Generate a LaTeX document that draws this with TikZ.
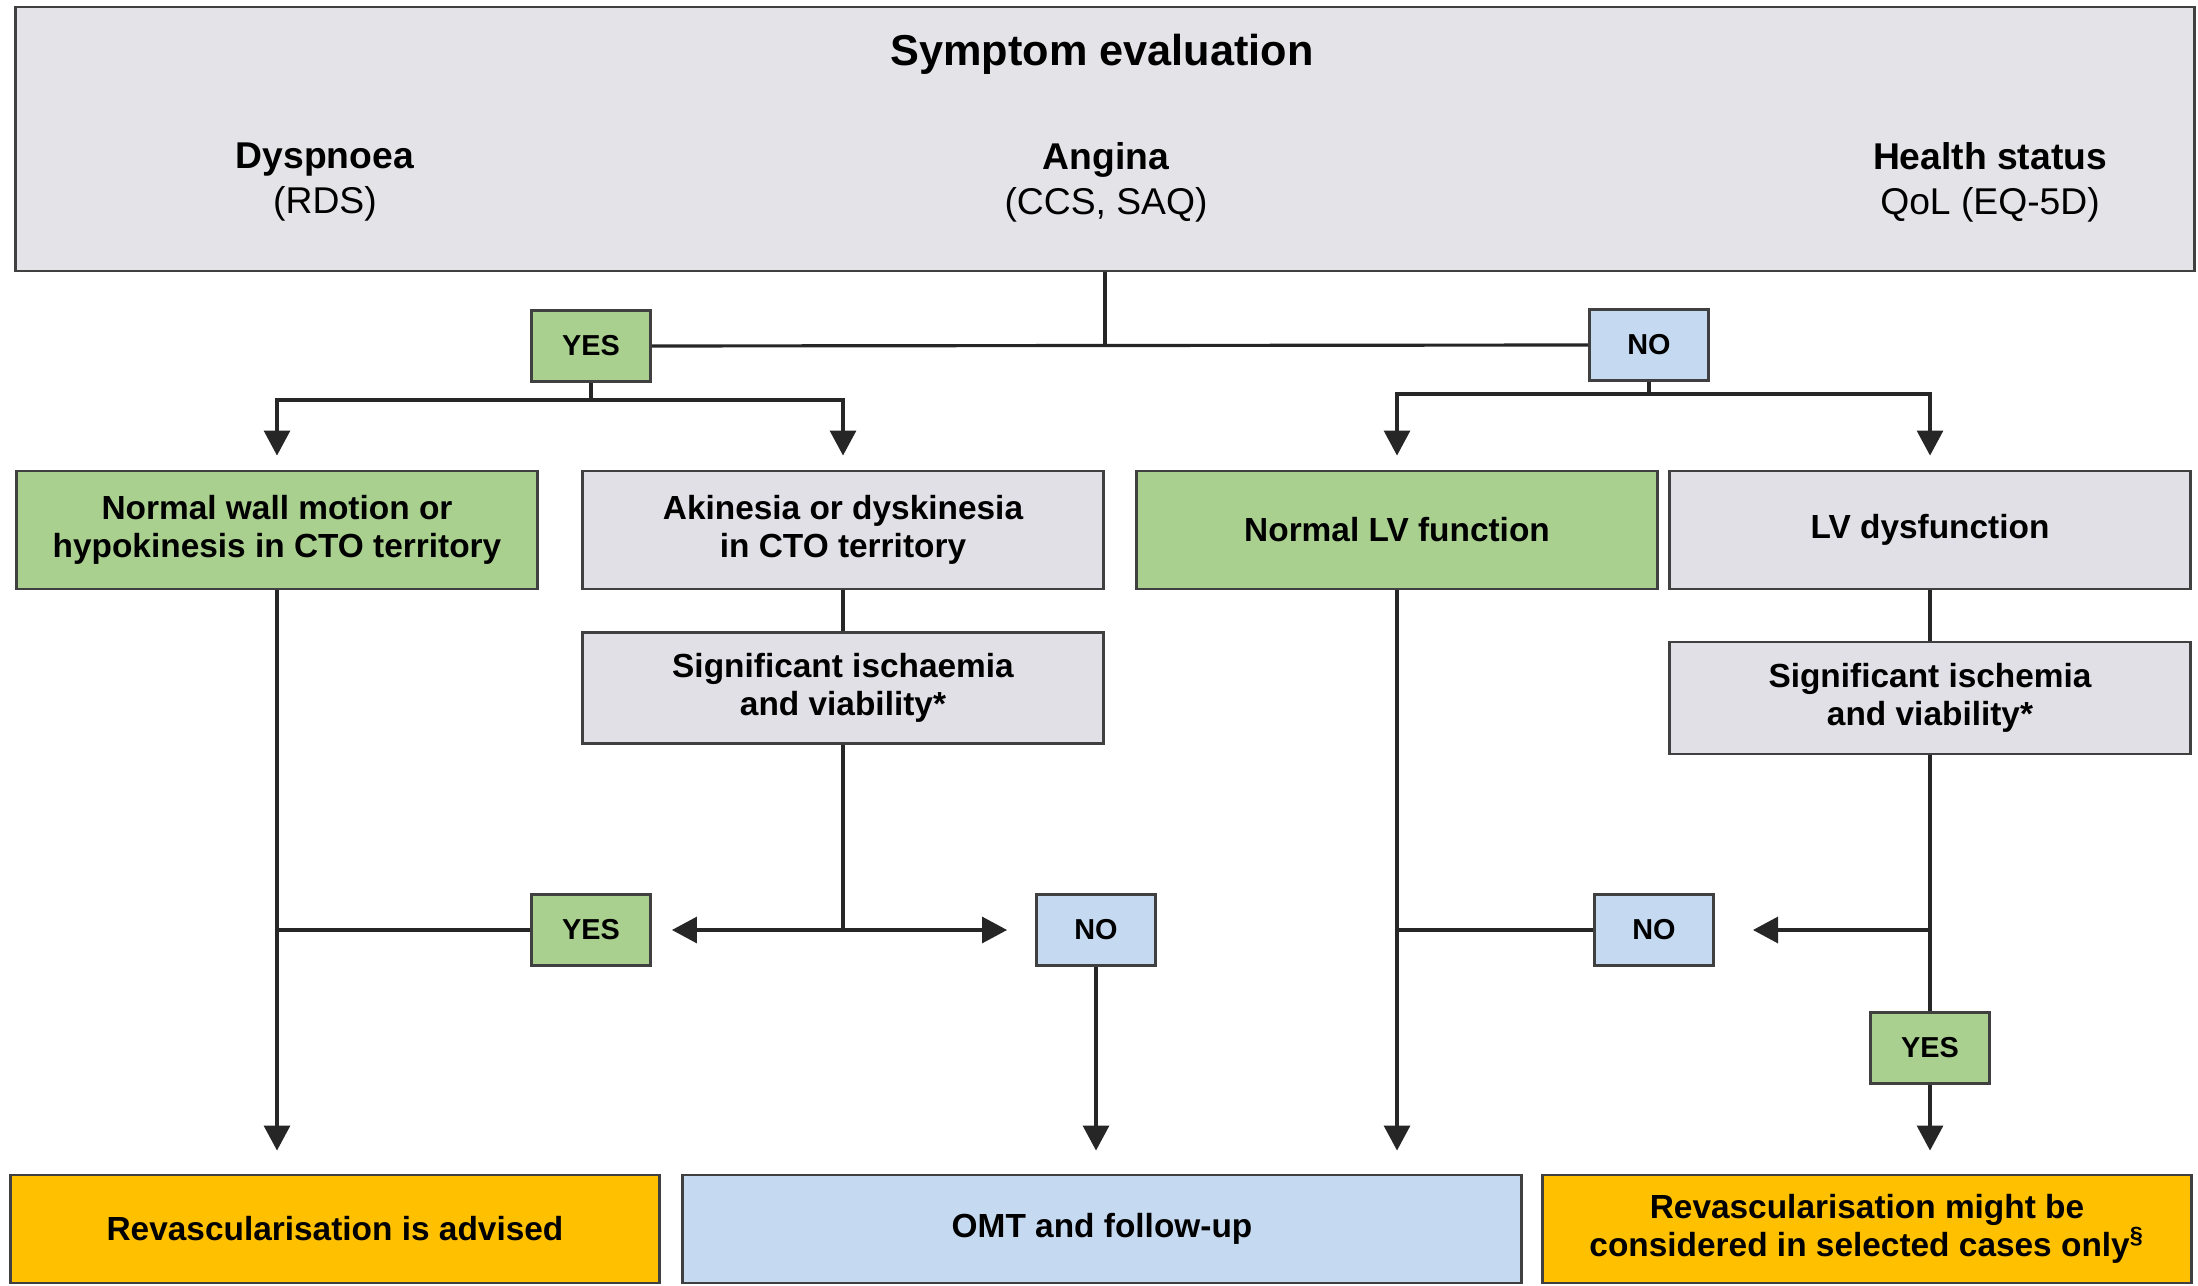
\documentclass[tikz,border=0pt]{standalone}
\usepackage{fontspec}
\setmainfont{Liberation Sans}
\usepackage{tikz}
\usetikzlibrary{arrows.meta}
\definecolor{boxgrey}{RGB}{225,224,230}
\definecolor{boxgreen}{RGB}{169,208,142}
\definecolor{boxblue}{RGB}{197,217,241}
\definecolor{boxorange}{RGB}{255,192,0}
\definecolor{boxline}{RGB}{64,64,64}

\begin{document}
\begin{tikzpicture}[x=0.01cm,y=-0.01cm,
  box/.style={draw=boxline,line width=0.8pt,minimum width=5.2cm,minimum height=1.18cm,align=center,font=\fontsize{9.5}{10.8}\selectfont\bfseries},
  tag/.style={box,minimum width=1.19cm,minimum height=0.71cm,font=\fontsize{8.2}{9}\selectfont\bfseries},
  head/.style={align=center,font=\fontsize{10.6}{12.8}\selectfont},
  link/.style={line width=0.9pt,draw=black!85},
  arr/.style={link,-{Triangle[width=0.26cm,length=0.25cm]},shorten >=#1},
  arr/.default=0.14cm]
\tikzstyle{every node}+=[inner sep=0pt]
\useasboundingbox (0,0) rectangle (2198,1286);
\node[box,fill=boxgrey!90!white,minimum width=21.77cm,minimum height=2.64cm] (sym) at (1105,139) {};
\node[font=\fontsize{12.3}{14}\selectfont\bfseries] (title) at (1102,54) {Symptom evaluation};
\node[head] (dysp) at (325,182) {\textbf{Dyspnoea}\\(RDS)};
\node[head] (ang) at (1106,182) {\textbf{Angina}\\(CCS, SAQ)};
\node[head] (hs) at (1990,182) {\textbf{Health status}\\QoL (EQ-5D)};
\node[tag,fill=boxgreen] (yes1) at (591,346) {YES};
\node[tag,fill=boxblue] (no1) at (1649,345) {NO};
\draw[link] (sym.south) -- (sym.south |- yes1.east);
\draw[link] (yes1.east) -- (no1.west);
\node[box,fill=boxgreen] (nwm) at (277,530) {Normal wall motion or\\hypokinesis in CTO territory};
\node[box,fill=boxgrey] (aki) at (843,530) {Akinesia or dyskinesia\\in CTO territory};
\node[box,fill=boxgreen] (nlv) at (1397,530) {Normal LV function};
\node[box,fill=boxgrey] (lvd) at (1930,530) {LV dysfunction};
\coordinate (ys) at (591,400);
\coordinate (ns) at (1649,394);
\draw[link] (yes1.south) -- (ys);
\draw[arr] (ys) -| (nwm.north);
\draw[arr] (ys) -| (aki.north);
\draw[link] (no1.south) -- (ns);
\draw[arr] (ns) -| (nlv.north);
\draw[arr] (ns) -| (lvd.north);
\node[box,fill=boxgrey,minimum height=1.11cm] (sig1) at (843,688) {Significant ischaemia\\and viability*};
\node[box,fill=boxgrey,minimum height=1.12cm] (sig2) at (1930,698) {Significant ischemia\\and viability*};
\draw[link] (aki) -- (sig1);
\draw[link] (lvd) -- (sig2);
\node[tag,fill=boxgreen] (yes2) at (591,930) {YES};
\node[tag,fill=boxblue] (no2) at (1096,930) {NO};
\node[tag,fill=boxblue] (no3) at (1654,930) {NO};
\node[tag,fill=boxgreen] (yes3) at (1930,1048) {YES};
\coordinate (mj) at (sig1.south |- yes2);
\coordinate (rj) at (sig2.south |- no3);
\draw[link] (sig1.south) -- (mj);
\draw[arr=0.2cm] (mj) -- (yes2.east);
\draw[arr=0.28cm] (mj) -- (no2.west);
\draw[link] (sig2.south) -- (yes3.north);
\draw[arr=0.38cm] (rj) -- (no3.east);
\node[box,fill=boxorange,minimum width=6.48cm,minimum height=1.08cm] (rev1) at (335,1229) {Revascularisation is advised};
\node[box,fill=boxblue,minimum width=8.38cm,minimum height=1.08cm] (omt) at (1102,1229) {OMT and follow-up};
\node[box,fill=boxorange,minimum width=6.48cm,minimum height=1.08cm] (rev2) at (1867,1229) {Revascularisation might be\\considered in selected cases only\textsuperscript{§}};
\draw[arr=0.23cm] (nwm.south) -- (nwm.south |- rev1.north);
\draw[link] (yes2.west) -- (nwm.south |- yes2.west);
\draw[arr=0.23cm] (no2.south) -- (no2.south |- omt.north);
\draw[arr=0.23cm] (nlv.south) -- (nlv.south |- omt.north);
\draw[link] (no3.west) -- (nlv.south |- no3.west);
\draw[arr=0.23cm] (yes3.south) -- (yes3.south |- rev2.north);
\end{tikzpicture}
\end{document}
